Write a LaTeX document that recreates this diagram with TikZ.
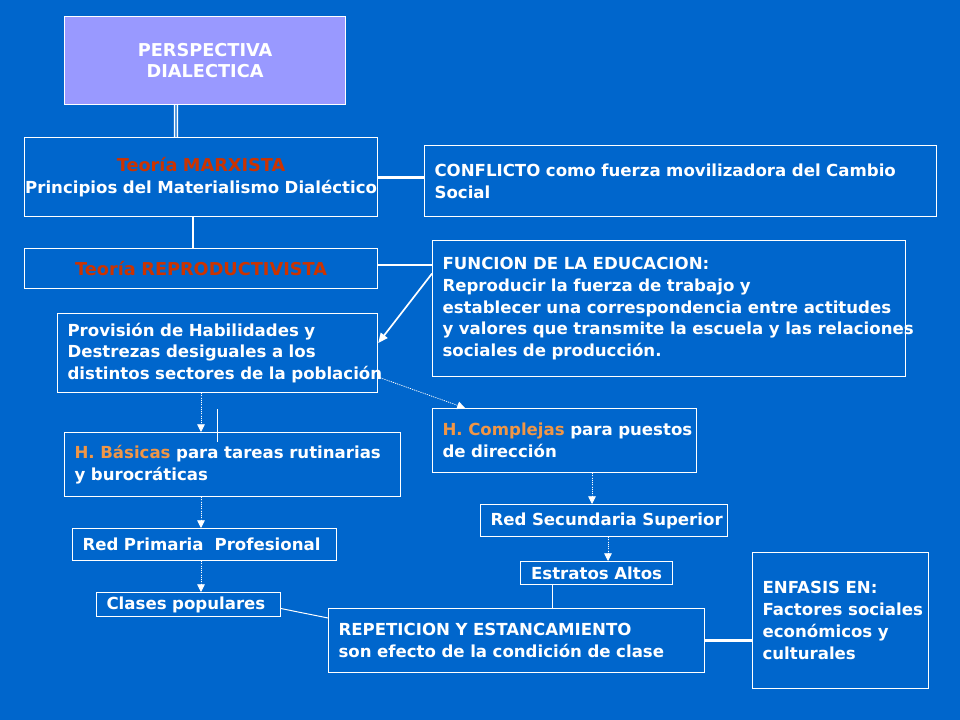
\documentclass[tikz,border=0pt]{standalone}
\usepackage{fontspec}
\setmainfont{DejaVu Sans}
\usetikzlibrary{arrows.meta,positioning,calc}
\definecolor{slideblue}{RGB}{0,102,204}
\definecolor{boxlav}{RGB}{153,153,255}
\definecolor{teored}{RGB}{204,51,0}
\definecolor{habor}{RGB}{240,150,70}
\newcommand\teoria[1]{\textcolor{teored}{\fontsize{12.6}{15.6}\selectfont #1}}
\tikzset{
  ebox/.style={draw=white, line width=0.8pt, anchor=north west, inner xsep=0.25cm, inner ysep=0pt,
               text=white, font=\bfseries\fontsize{11.8}{15.6}\selectfont},
  tbox/.style={ebox, align=left, execute at begin node={\rightskip=-0.6cm plus 1fil\hyphenpenalty=10000}},
  cbox/.style={ebox, align=center},
  link/.style={draw=white, line width=1.4pt},
  tlink/.style={draw=white, line width=0.7pt},
  blink/.style={draw=white, line width=2.2pt},
  dline/.style={draw=white, double=slideblue, double distance=0.9pt, line width=1.1pt},
  sflow/.style={-{Triangle[length=7pt,width=6pt]}, draw=white, fill=white, line width=1.2pt},
  dflow/.style={-{Triangle[length=5.5pt,width=5.5pt]}, draw=white, fill=white, line width=0.6pt, densely dotted},
}
\begin{document}
\begin{tikzpicture}[x=0.025cm, y=-0.025cm]
  \fill[slideblue] (0,0) rectangle (960,720);
  \node[cbox, fill=boxlav, text width=6.525cm, minimum height=2.2cm, font=\bfseries\fontsize{12.6}{15.6}\selectfont] (persp) at (64,16) {PERSPECTIVA\\ DIALECTICA};
  \node[cbox, inner xsep=0pt, text width=8.825cm, minimum height=1.975cm] (marx) at (24,137) {\teoria{Teoría MARXISTA}\\ Principios del Materialismo Dialéctico};
  \node[tbox, text width=12.3cm, minimum height=1.775cm] (confl) at (424,145) {CONFLICTO como fuerza movilizadora del Cambio\\ Social};
  \node[cbox, inner xsep=0pt, text width=8.825cm, minimum height=1cm] (repro) at (24,248) {\teoria{Teoría REPRODUCTIVISTA}};
  \node[tbox, text width=11.325cm, minimum height=3.4cm] (func) at (432,240) {FUNCION DE LA EDUCACION:\\ Reproducir la fuerza de trabajo y\\ establecer una correspondencia entre actitudes\\ y valores que transmite la escuela y las relaciones\\ sociales de producción.};
  \node[tbox, text width=7.5cm, minimum height=1.975cm] (prov) at (57,313) {Provisión de Habilidades y\\ Destrezas desiguales a los\\ distintos sectores de la población};
  \node[tbox, text width=7.9cm, minimum height=1.6cm] (basic) at (64,432) {\textcolor{habor}{H. Básicas} para tareas rutinarias\\ y burocráticas};
  \node[tbox, text width=6.1cm, minimum height=1.6cm] (compl) at (432,408) {\textcolor{habor}{H. Complejas} para puestos\\ de dirección};
  \node[tbox, text width=6.1cm, minimum height=0.8cm] (redpri) at (72,528) {Red Primaria~ Profesional};
  \node[tbox, text width=5.675cm, minimum height=0.8cm] (redsec) at (480,504) {Red Secundaria Superior};
  \node[tbox, text width=4.1cm, minimum height=0.6cm] (clases) at (96,592) {Clases populares};
  \node[cbox, text width=3.3cm, minimum height=0.575cm] (estr) at (520,561) {Estratos Altos};
  \node[tbox, text width=8.9cm, minimum height=1.6cm] (repet) at (328,608) {REPETICION Y ESTANCAMIENTO\\ son efecto de la condición de clase};
  \node[tbox, text width=3.9cm, minimum height=3.4cm] (enfas) at (752,552) {ENFASIS EN:\\ Factores sociales\\ económicos y\\ culturales};
  \coordinate (xl) at (201,0);
  \coordinate (xr) at (592,0);
  \coordinate (xq) at (608,0);
  \coordinate (xe) at (552,0);
  \draw[dline] ([xshift=2.8cm]persp.south west) -- ([xshift=3.8cm]marx.north west);
  \draw[blink] (marx.east) -- (marx.east -| confl.west);
  \draw[link] ([xshift=-0.2cm]marx.south) -- ([xshift=-0.2cm]repro.north);
  \draw[link] ([yshift=0.1cm]repro.east) -- ([yshift=0.1cm]repro.east -| func.west);
  \draw[sflow] ([yshift=0.875cm]func.west) -- ([yshift=0.25cm]prov.east);
  \draw[dflow] ([yshift=-0.6cm]prov.east) -- ([xshift=0.825cm]compl.north west);
  \draw[dflow] (prov.south -| xl) -- (basic.north -| xl);
  \draw[tlink] ([yshift=-0.4cm]prov.south) -- ($(basic.north -| prov.south)+(0,10)$);
  \draw[dflow] (basic.south -| xl) -- (redpri.north -| xl);
  \draw[dflow] (redpri.south -| xl) -- (clases.north -| xl);
  \draw[tlink] ([yshift=-0.1cm]clases.east) -- ([yshift=-0.25cm]repet.north west);
  \draw[dflow] (compl.south -| xr) -- (redsec.north -| xr);
  \draw[dflow] (redsec.south -| xq) -- (estr.north -| xq);
  \draw[tlink] (estr.south -| xe) -- (repet.north -| xe);
  \draw[blink] (repet.east) -- (repet.east -| enfas.west);
\end{tikzpicture}
\end{document}
